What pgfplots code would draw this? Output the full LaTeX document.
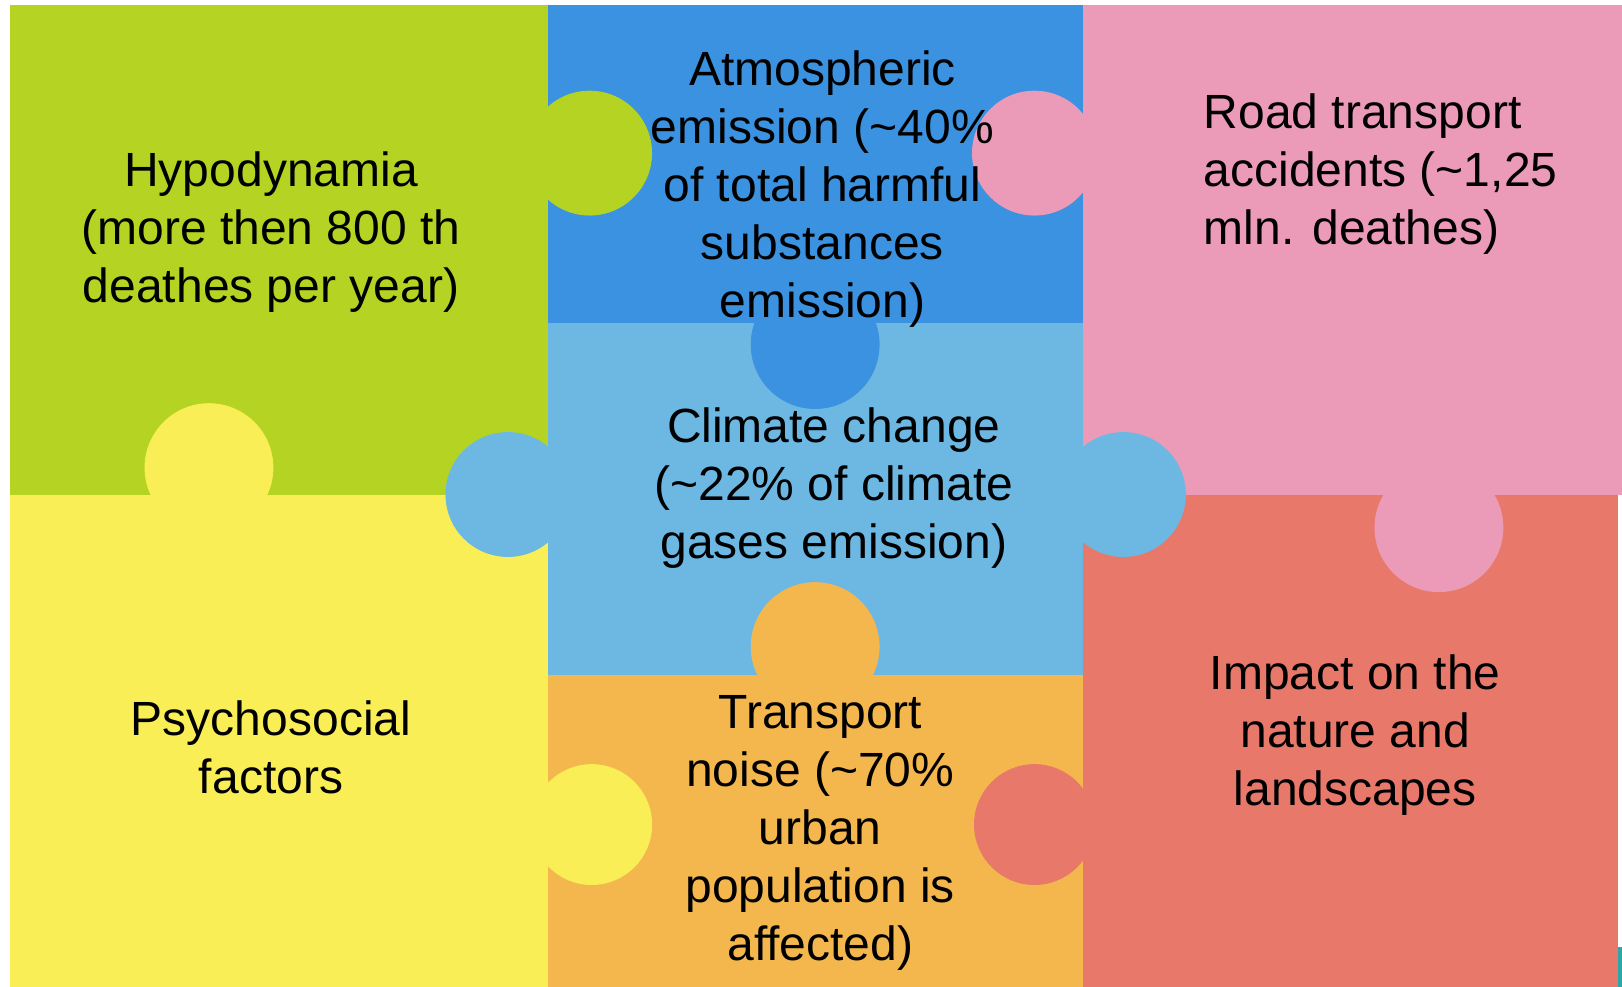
\documentclass[border=0pt]{standalone}
\usepackage{pgfplots}
\pgfplotsset{compat=1.18}
\usepackage{fontspec}
\setmainfont{Liberation Sans}
\definecolor{cgreen}{HTML}{B5D322}
\definecolor{cdblue}{HTML}{3A92E0}
\definecolor{clblue}{HTML}{6CB8E3}
\definecolor{cpink}{HTML}{EB9BB7}
\definecolor{cyellow}{HTML}{F9EE55}
\definecolor{corange}{HTML}{F4B74E}
\definecolor{cred}{HTML}{E8796A}
\definecolor{cteal}{HTML}{2BA8A8}
\newcommand{\bigf}{\fontsize{24}{29}\selectfont}
\begin{document}
\begin{tikzpicture}
\begin{axis}[
  scale only axis, width=811pt, height=493.5pt,
  xmin=0, xmax=1568, ymin=0, ymax=954, y dir=reverse,
  hide axis, clip=false
]
% background
\addplot[fill=white, draw=none] coordinates {(0,0) (1568,0) (1568,954) (0,954)};
% pieces
\addplot[fill=cgreen, draw=none] coordinates {(10,5) (530,5) (530,478) (10,478)};
\addplot[fill=cyellow, draw=none] coordinates {(10,478) (530,478) (530,954) (10,954)};
\addplot[fill=cdblue, draw=none] coordinates {(530,5) (1047,5) (1047,312) (530,312)};
\addplot[fill=clblue, draw=none] coordinates {(530,312) (1047,312) (1047,652) (530,652)};
\addplot[fill=corange, draw=none] coordinates {(530,652) (1047,652) (1047,954) (530,954)};
\addplot[fill=cpink, draw=none] coordinates {(1047,5) (1568,5) (1568,478) (1047,478)};
\addplot[fill=cred, draw=none] coordinates {(1047,478) (1564,478) (1564,954) (1047,954)};
\addplot[fill=cteal, draw=none] coordinates {(1564,915) (1568,915) (1568,954) (1564,954)};
% knobs
\addplot[only marks, mark=*, mark size=31pt, color=cgreen] coordinates {(570,148)};
\addplot[only marks, mark=*, mark size=31pt, color=cpink] coordinates {(1000,148)};
\addplot[only marks, mark=*, mark size=32pt, color=cdblue] coordinates {(788,333)};
\addplot[only marks, mark=*, mark size=32pt, color=cyellow] coordinates {(202,452)};
\addplot[only marks, mark=*, mark size=31pt, color=clblue] coordinates {(491,478) (1086,478)};
\addplot[only marks, mark=*, mark size=32pt, color=cpink] coordinates {(1391,510)};
\addplot[only marks, mark=*, mark size=32pt, color=corange] coordinates {(788,625)};
\addplot[only marks, mark=*, mark size=30pt, color=cyellow] coordinates {(572,797)};
\addplot[only marks, mark=*, mark size=30pt, color=cred] coordinates {(1000,797)};
% text anchors
\coordinate (tH) at (axis cs:262,224);
\coordinate (tA) at (axis cs:795,183);
\coordinate (tR) at (axis cs:1157,168);
\coordinate (tC) at (axis cs:806,472);
\coordinate (tP) at (axis cs:262,722);
\coordinate (tT) at (axis cs:793,805);
\coordinate (tI) at (axis cs:1310,711);
\end{axis}
\node[align=center, font=\bigf] at (tH) {Hypodynamia\\(more then 800 th\\deathes per year)};
\node[align=center, font=\bigf] at (tA) {Atmospheric\\emission (\textasciitilde 40\%\\of total harmful\\substances\\emission)};
\node[align=left, anchor=west, font=\bigf] at (tR) {Road transport\\accidents (\textasciitilde 1,25\\mln. deathes)};
\node[align=center, font=\bigf] at (tC) {Climate change\\(\textasciitilde 22\% of climate\\gases emission)};
\node[align=center, font=\bigf] at (tP) {Psychosocial\\factors};
\node[align=center, font=\bigf] at (tT) {Transport\\noise (\textasciitilde 70\%\\urban\\population is\\affected)};
\node[align=center, font=\bigf] at (tI) {Impact on the\\nature and\\landscapes};
\end{tikzpicture}
\end{document}
